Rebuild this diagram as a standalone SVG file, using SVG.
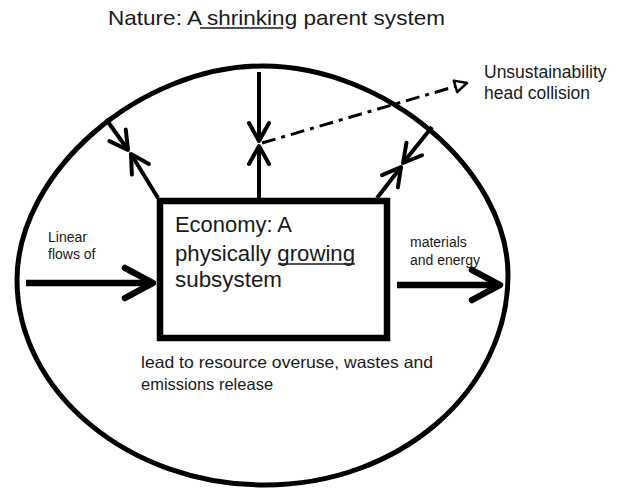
<svg xmlns="http://www.w3.org/2000/svg" width="617" height="490" viewBox="0 0 617 490">
  <style>
    text { font-family: "Liberation Sans", Arial, sans-serif; fill: #1a1a1a; }
    .title { font-size: 21px; }
    .box-text { font-size: 21.5px; }
    .small { font-size: 14px; }
    .mid { font-size: 17.5px; }
    .note { font-size: 16.5px; }
    .ul { stroke: #1a1a1a; stroke-width: 1.6; }
    .thin { stroke: #000; stroke-width: 4; fill: none; }
    .thick { stroke: #000; stroke-width: 6.5; fill: none; }
    .dashdot { stroke: #000; stroke-width: 3; fill: none; stroke-dasharray: 14 6 4 6; }
  </style>
  <defs>
    <marker id="vsmall" markerUnits="userSpaceOnUse" orient="auto" markerWidth="30" markerHeight="30" viewBox="-22 -15 30 30" refX="0" refY="0">
      <path d="M -18 -10 L 0 0 L -18 10" fill="none" stroke="#000" stroke-width="4" stroke-linecap="round" stroke-linejoin="round"/>
    </marker>
    <marker id="vbig" markerUnits="userSpaceOnUse" orient="auto" markerWidth="44" markerHeight="44" viewBox="-36 -22 44 44" refX="0" refY="0">
      <path d="M -28 -15 L 0 0 L -28 15" fill="none" stroke="#000" stroke-width="6.5" stroke-linecap="round" stroke-linejoin="round"/>
    </marker>
    <marker id="tri" markerUnits="userSpaceOnUse" orient="auto" markerWidth="20" markerHeight="20" viewBox="-16 -10 20 20" refX="0" refY="0">
      <path d="M -12 -6 L 0 0 L -12 6 Z" fill="#fff" stroke="#000" stroke-width="2.5" stroke-linejoin="round"/>
    </marker>
  </defs>

  <g id="title">
    <text class="title" x="108" y="25" textLength="337" lengthAdjust="spacingAndGlyphs">Nature: A shrinking parent system</text>
    <line class="ul" x1="200" y1="28" x2="283" y2="28"/>
  </g>

  <g id="nature">
    <path d="M 17 280 C 17 172 140 66 263 66 C 385.5 66 508 170.5 508 275 C 508 391 399 485 265 485 C 128 485 17 391 17 280 Z" fill="none" stroke="#000" stroke-width="5"/>
  </g>

  <g id="economy">
    <rect x="160" y="201" width="227" height="137" fill="#fff" stroke="#000" stroke-width="6.5"/>
    <text class="box-text" x="175" y="232" textLength="117" lengthAdjust="spacingAndGlyphs">Economy: A</text>
    <text class="box-text" x="175" y="261" textLength="180" lengthAdjust="spacingAndGlyphs">physically growing</text>
    <line class="ul" x1="278" y1="264" x2="355" y2="264"/>
    <text class="box-text" x="175" y="287" textLength="107" lengthAdjust="spacingAndGlyphs">subsystem</text>
  </g>

  <g id="connectors">
    <line class="thin" x1="259" y1="72" x2="259" y2="141" marker-end="url(#vsmall)"/>
    <line class="thin" x1="259" y1="199" x2="259" y2="146" marker-end="url(#vsmall)"/>
    <line class="thin" x1="106" y1="119" x2="128" y2="150" marker-end="url(#vsmall)"/>
    <line class="thin" x1="158" y1="198" x2="131" y2="154" marker-end="url(#vsmall)"/>
    <line class="thin" x1="432" y1="127" x2="403" y2="163" marker-end="url(#vsmall)"/>
    <line class="thin" x1="377" y1="198" x2="401" y2="167" marker-end="url(#vsmall)"/>
    <line class="dashdot" x1="262" y1="143" x2="467" y2="83" marker-end="url(#tri)"/>
    <line class="thick" x1="26" y1="283" x2="153" y2="283" marker-end="url(#vbig)"/>
    <line class="thick" x1="397" y1="285" x2="500" y2="285" marker-end="url(#vbig)"/>
  </g>

  <g id="labels">
    <text class="small" x="48" y="242">Linear</text>
    <text class="small" x="48" y="259">flows of</text>
    <text class="small" x="410" y="247">materials</text>
    <text class="small" x="410" y="265">and energy</text>
    <text class="mid" x="484" y="78">Unsustainability</text>
    <text class="mid" x="484" y="99">head collision</text>
    <text class="note" x="141" y="368" textLength="292" lengthAdjust="spacingAndGlyphs">lead to resource overuse, wastes and</text>
    <text class="note" x="141" y="390">emissions release</text>
  </g>
</svg>
